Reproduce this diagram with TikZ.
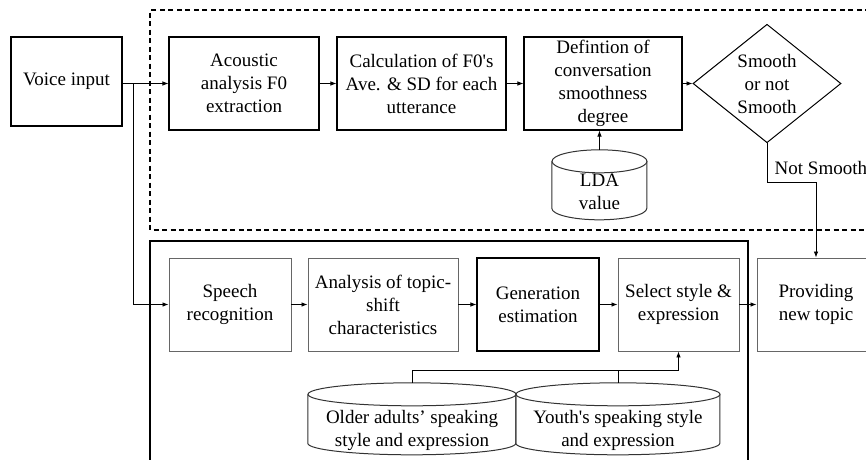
\documentclass[tikz,border=0pt]{standalone}
\usepackage{fontspec}
\setmainfont{Liberation Serif}
\usetikzlibrary{arrows.meta,shapes.geometric}
\begin{document}
\begin{tikzpicture}[x=1pt,y=-1pt,
    font=\fontsize{19}{23}\selectfont,
    box/.style={draw,line width=1.1pt,align=center,inner sep=0pt,minimum height=93},
    softbox/.style={box,draw=black!60,line width=0.9pt},
    dbase/.style={inner sep=0pt},
    flow/.style={line width=0.8pt,-{Latex[length=6pt,width=4.5pt]}}]
    \useasboundingbox (0,0) rectangle (866,459);
    % frames
    \draw [dash pattern=on 5pt off 3.5pt,line width=1.2pt] (870,10) -- (150,10) -- (150,230) -- (870,230);
    \draw [line width=1.8pt] (150,470) -- (150,241) -- (748,241) -- (748,470);
    % upper row
    \node [box,minimum width=111,minimum height=89] (voice) at (66.5,81.5) {Voice input};
    \node [box,minimum width=150] (acoustic) at (244,83.5) {Acoustic\\analysis F0\\extraction};
    \node [box,minimum width=169] (calc) at (421.5,83.5) {Calculation of F0\textquotesingle s\\Ave. \& SD for each\\utterance};
    \node [box,minimum width=158] (defn) at (603,83.5) {Defintion of\\conversation\\smoothness\\degree};
    \node [draw,line width=1pt,diamond,align=center,inner sep=0pt,minimum width=148,minimum height=109] (judge) at (767,83.5) {Smooth\\or not\\Smooth};
    \node [dbase,minimum width=95,minimum height=70] (lda) at (599.5,185) {};
    \node [align=center] (ldatext) at (599.5,192) {LDA\\value};
    % lower row
    \node [softbox,minimum width=122] (speech) at (230,304.5) {Speech\\recognition};
    \node [softbox,minimum width=150] (topic) at (383,304.5) {Analysis of topic-\\shift\\characteristics};
    \node [box,minimum width=122] (generation) at (538,304.5) {Generation\\estimation};
    \node [softbox,minimum width=121] (select) at (678.5,304.5) {Select style \&\\expression};
    \node [softbox,minimum width=118] (newtopic) at (816,304.5) {Providing\\new topic};
    \node [dbase,minimum width=208,minimum height=72] (older) at (412,419) {};
    \node [align=center] (oldertext) at (412,430.5) {Older adults’ speaking\\style and expression};
    \node [dbase,minimum width=204,minimum height=72] (youth) at (618,419) {};
    \node [align=center] (youthtext) at (618,430.5) {Youth\textquotesingle s speaking style\\and expression};
    % cylinders
    \foreach \db/\rx/\len in {lda/47.5/47,older/104/49,youth/102/49} {
      \draw [draw=black!80,line width=1pt] (\db.north west) ++(0,11.5) -- ++(0,\len)
        arc [start angle=180,end angle=360,x radius=\rx pt,y radius=11.5pt] -- ++(0,-\len);
      \draw [draw=black!80,line width=1pt] (\db.north) ++(0,11.5) ellipse [x radius=\rx pt,y radius=11.5pt];
    }
    % connectors
    \coordinate (split) at (133,83.5);
    \draw [flow] (voice.east |- split) -- (acoustic.west);
    \draw [flow] (split) |- (speech.west);
    \draw [flow] (acoustic) -- (calc);
    \draw [flow] (calc) -- (defn);
    \draw [flow] (defn) -- (judge);
    \draw [flow] (lda.north) -- (lda.north |- defn.south);
    \draw [flow] (judge.south) -- ++(0,39) -| (newtopic.north)
      node [pos=0.02,anchor=south west,xshift=2pt,yshift=4pt] {Not Smooth};
    \draw [flow] (speech) -- (topic);
    \draw [flow] (topic) -- (generation);
    \draw [flow] (generation) -- (select);
    \draw [flow] (select) -- (newtopic);
    \coordinate (join) at (412,370);
    \draw [line width=0.8pt] (older.north) -- (join) -- (join -| youth.north) -- (youth.north);
    \draw [flow] (join -| youth.north) -- (join -| select.south) -- (select.south);
\end{tikzpicture}
\end{document}
